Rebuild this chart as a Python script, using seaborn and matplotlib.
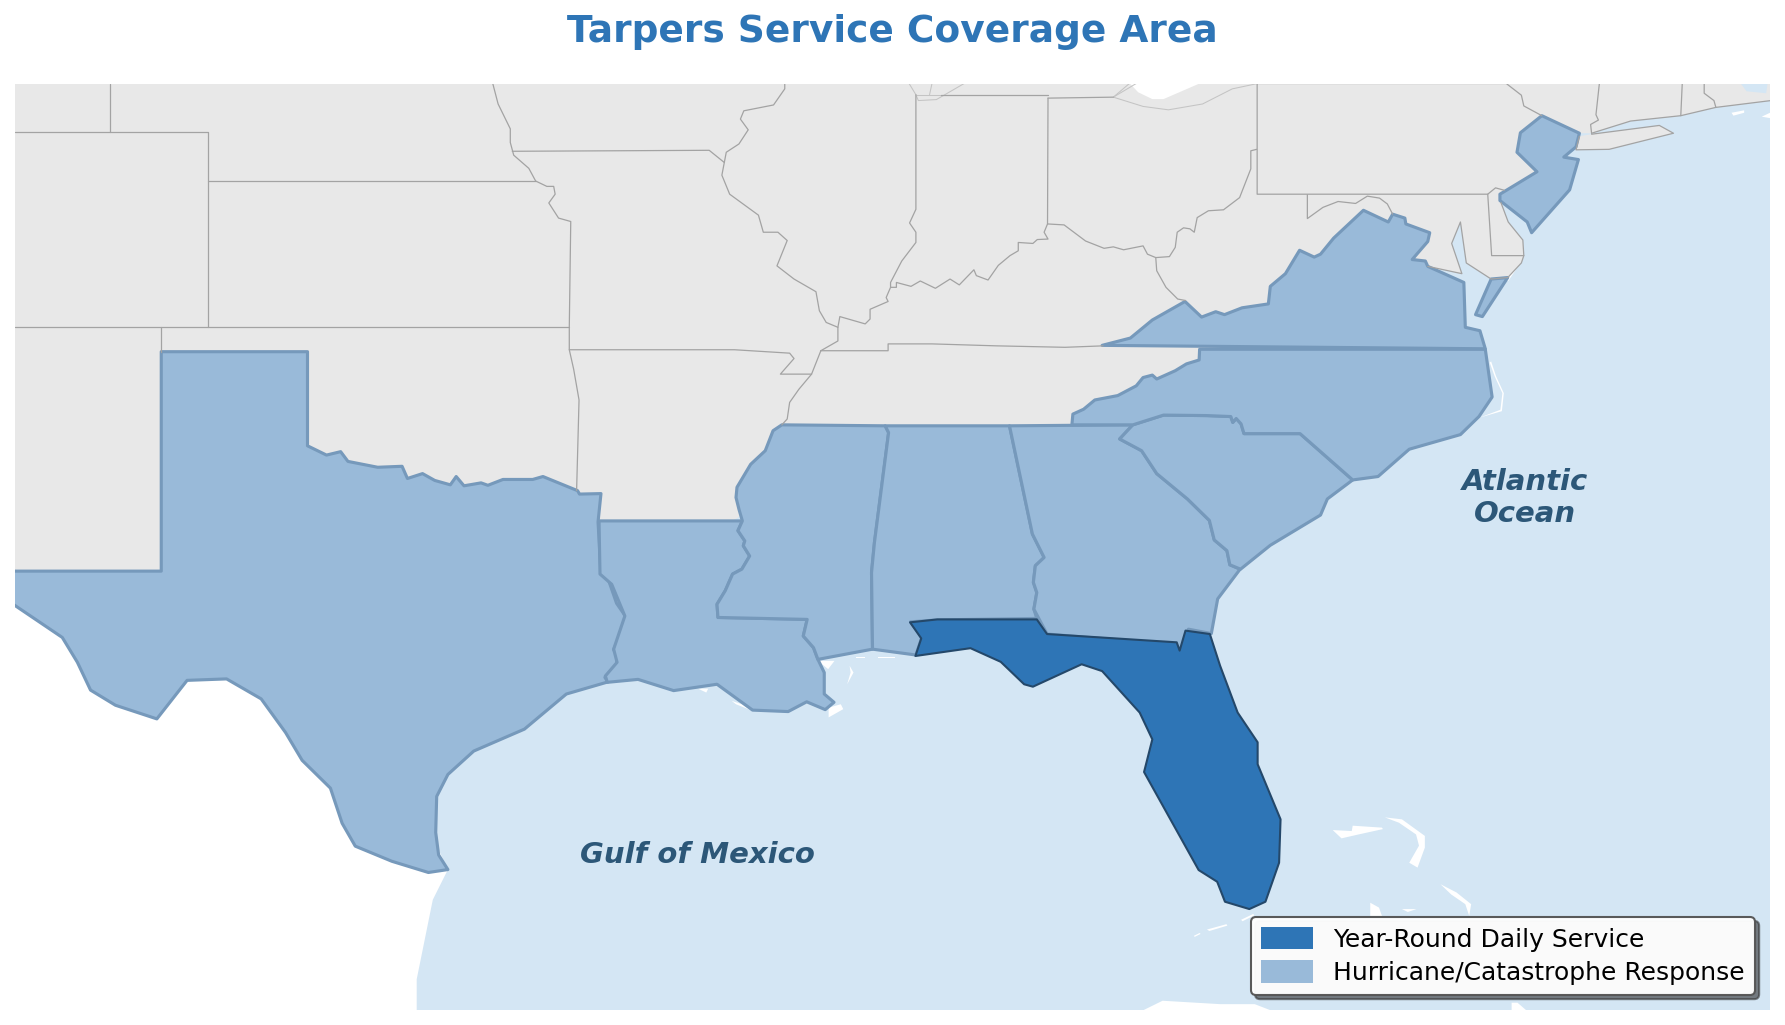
import matplotlib
matplotlib.use("Agg")
import matplotlib.pyplot as plt
import seaborn as sns
from matplotlib.patches import Patch

# map window (plain lon/lat)
LON_RANGE = (-106, -70)
LAT_RANGE = (23, 42)

TITLE = "Tarpers Service Coverage Area"
LEGEND_LABELS = ["Year-Round Daily Service", "Hurricane/Catastrophe Response"]

# served states, lon/lat outlines
TEXAS = [(-103, 32), (-103, 36.5), (-100, 36.5), (-100, 34.57), (-99.61, 34.38), (-99.32, 34.45), (-99.17, 34.25),
         (-98.56, 34.13), (-98.06, 34.15), (-97.95, 33.90), (-97.64, 34.0), (-97.39, 33.86), (-97.07, 33.77),
         (-96.95, 33.94), (-96.79, 33.75), (-96.44, 33.81), (-96.30, 33.76), (-95.99, 33.88), (-95.38, 33.88),
         (-95.17, 33.94), (-94.46, 33.65), (-94.42, 33.58), (-93.98, 33.59), (-94.04, 33.01), (-93.98, 31.95),
         (-93.83, 31.83), (-93.66, 31.34), (-93.48, 31.08), (-93.60, 30.66), (-93.72, 30.39), (-93.65, 30.28),
         (-93.66, 30.07), (-93.90, 29.82), (-93.83, 29.73), (-94.69, 29.48), (-95.55, 28.76), (-96.59, 28.31),
         (-97.12, 27.83), (-97.35, 27.38), (-97.37, 26.64), (-97.31, 26.18), (-97.12, 25.88), (-97.52, 25.82),
         (-98.27, 26.05), (-99.02, 26.36), (-99.29, 26.83), (-99.53, 27.55), (-100.11, 28.12), (-100.45, 28.69),
         (-100.95, 29.38), (-101.66, 29.79), (-102.47, 29.76), (-103.09, 28.97), (-103.94, 29.25), (-104.45, 29.56),
         (-104.72, 30.13), (-105.03, 30.64), (-106.6, 31.7), (-106.6, 32)]
LOUISIANA = [(-94.02, 33.03), (-91.15, 33.03), (-91.08, 33.03), (-91.17, 32.83), (-91.03, 32.62), (-91.06, 32.52),
             (-90.93, 32.31), (-91.09, 32.04), (-91.28, 31.94), (-91.43, 31.6), (-91.60, 31.32), (-91.58, 31.05),
             (-89.75, 31.01), (-89.83, 30.67), (-89.62, 30.43), (-89.53, 30.19), (-89.40, 29.92), (-89.40, 29.48),
             (-89.20, 29.31), (-89.38, 29.16), (-89.76, 29.32), (-90.14, 29.12), (-90.87, 29.15), (-91.6, 29.68),
             (-92.49, 29.55), (-93.22, 29.78), (-93.85, 29.72), (-93.89, 29.85), (-93.65, 30.13), (-93.72, 30.40),
             (-93.49, 31.08), (-93.76, 31.73), (-94.0, 31.94)]
MISSISSIPPI = [(-90.27, 35.0), (-88.15, 34.98), (-88.08, 34.84), (-88.37, 32.59), (-88.43, 31.97), (-88.41, 30.40),
               (-89.53, 30.19), (-89.62, 30.43), (-89.83, 30.67), (-89.75, 31.01), (-91.58, 31.05), (-91.60, 31.32),
               (-91.43, 31.6), (-91.28, 31.94), (-91.09, 32.04), (-90.93, 32.31), (-91.06, 32.52), (-91.03, 32.62),
               (-91.17, 32.83), (-91.08, 33.03), (-91.15, 33.27), (-91.21, 33.51), (-91.19, 33.72), (-90.91, 34.19),
               (-90.61, 34.47), (-90.45, 34.88)]
ALABAMA = [(-88.15, 34.98), (-85.60, 34.98), (-85.13, 32.76), (-84.89, 32.28), (-85.07, 32.11), (-85.11, 31.77),
           (-85.04, 31.56), (-85.10, 31.22), (-85.04, 31.03), (-87.07, 31.0), (-87.63, 30.96), (-87.40, 30.64),
           (-87.52, 30.28), (-88.41, 30.40), (-88.43, 31.97), (-88.37, 32.59), (-88.08, 34.84)]
GEORGIA = [(-85.60, 34.98), (-85.13, 32.76), (-84.89, 32.28), (-85.07, 32.11), (-85.11, 31.77), (-85.04, 31.56),
           (-85.10, 31.22), (-84.83, 30.71), (-82.23, 30.50), (-82.15, 30.35), (-82.02, 30.43), (-81.93, 30.81),
           (-81.46, 30.72), (-81.33, 31.43), (-80.87, 32.04), (-81.08, 32.13), (-81.14, 32.42), (-81.40, 32.64),
           (-81.50, 33.04), (-81.95, 33.48), (-82.58, 34.0), (-82.89, 34.47), (-83.34, 34.71), (-83.07, 35.0)]
SOUTH_CAROLINA = [(-82.44, 35.20), (-83.07, 35.0), (-83.34, 34.71), (-82.89, 34.47), (-82.58, 34.0), (-81.95, 33.48),
                  (-81.50, 33.04), (-81.40, 32.64), (-81.14, 32.42), (-81.08, 32.13), (-80.86, 32.04), (-80.25, 32.53),
                  (-79.22, 33.15), (-79.08, 33.48), (-78.56, 33.87), (-79.64, 34.82), (-80.79, 34.82), (-80.85, 35.02),
                  (-80.95, 35.13), (-81.02, 35.05), (-81.06, 35.17), (-81.55, 35.19)]
NORTH_CAROLINA = [(-75.84, 36.55), (-75.70, 35.57), (-75.97, 35.17), (-76.35, 34.80), (-77.40, 34.50), (-78.04, 33.94),
                  (-78.56, 33.87), (-79.64, 34.82), (-80.79, 34.82), (-80.85, 35.02), (-80.95, 35.13), (-81.02, 35.05),
                  (-81.06, 35.17), (-81.55, 35.19), (-82.44, 35.20), (-83.07, 35.0), (-84.32, 35.0), (-84.30, 35.22),
                  (-84.08, 35.32), (-83.85, 35.51), (-83.38, 35.6), (-83.0, 35.8), (-82.86, 35.97), (-82.67, 36.02),
                  (-82.58, 35.94), (-82.20, 36.11), (-81.97, 36.25), (-81.71, 36.33), (-81.70, 36.55)]
VIRGINIA = [(-83.70, 36.63), (-83.12, 36.78), (-82.67, 37.15), (-82.0, 37.53), (-81.66, 37.21), (-81.37, 37.32),
            (-81.19, 37.26), (-80.83, 37.40), (-80.29, 37.48), (-80.25, 37.84), (-79.94, 38.10), (-79.65, 38.58),
            (-79.35, 38.44), (-79.22, 38.50), (-78.95, 38.83), (-78.34, 39.40), (-77.83, 39.16), (-77.74, 39.32),
            (-77.49, 39.24), (-77.47, 39.12), (-76.98, 38.94), (-77.02, 38.76), (-77.34, 38.39), (-77.07, 38.36),
            (-77.02, 38.25), (-76.28, 37.92), (-76.25, 37.0), (-75.95, 36.93), (-75.84, 36.56)]
VIRGINIA_SHORE = [(-75.72, 37.99), (-75.38, 38.02), (-75.90, 37.22), (-76.04, 37.26)]
NEW_JERSEY = [(-74.68, 41.34), (-73.91, 40.98), (-73.98, 40.70), (-74.23, 40.49), (-73.93, 40.44), (-74.11, 39.82),
              (-74.89, 38.94), (-74.98, 39.16), (-75.54, 39.60), (-75.54, 39.73), (-74.78, 40.19), (-75.19, 40.59),
              (-75.12, 40.99)]
FLORIDA = [(-87.64, 30.95), (-87.08, 31.01), (-85.04, 31.01), (-84.83, 30.71), (-82.17, 30.54), (-82.11, 30.37),
           (-81.99, 30.78), (-81.49, 30.71), (-81.28, 30.06), (-80.92, 29.10), (-80.51, 28.49), (-80.51, 28.04),
           (-80.04, 26.91), (-80.07, 26.02), (-80.35, 25.22), (-80.68, 25.07), (-81.18, 25.22), (-81.34, 25.63),
           (-81.72, 25.87), (-82.84, 27.88), (-82.67, 28.55), (-82.93, 29.10), (-83.70, 29.95), (-84.12, 30.09),
           (-85.12, 29.63), (-85.30, 29.68), (-85.78, 30.14), (-86.40, 30.42), (-87.53, 30.26), (-87.41, 30.62)]

# rest of the country, its south side runs underneath the served states
GREY_LAND = [(-106.7, 42.5), (-69.9, 42.5), (-69.9, 41.66), (-71.11, 41.51), (-71.83, 41.34), (-72.86, 41.23),
             (-73.66, 40.98), (-73.91, 40.98), (-74.5, 40.0), (-75.3, 39.55), (-75.52, 39.56), (-75.37, 39.16),
             (-75.07, 38.79), (-75.05, 38.47), (-75.10, 38.32), (-75.38, 38.02), (-75.72, 37.99), (-76.23, 38.32),
             (-76.35, 39.16), (-76.53, 38.72), (-76.32, 38.10), (-77.02, 38.25), (-78, 36.3), (-82, 35.3),
             (-84.5, 34.95), (-90.2, 34.9), (-91.0, 33.2), (-91.5, 32.9), (-93.9, 32.9), (-94.2, 33.3), (-98, 33.3),
             (-99.8, 34), (-100.2, 34), (-100.2, 36.3), (-102.8, 36.3), (-102.8, 31.9), (-106.7, 31.9)]
LONG_ISLAND = [(-73.66, 40.96), (-72.27, 41.14), (-71.98, 40.98), (-73.30, 40.65), (-73.98, 40.64), (-73.91, 40.92)]
CAPE_COD_BAY = [(-70.60, 42.0), (-70.48, 41.84), (-70.08, 41.80), (-70.05, 42.0)]
LAKE_ERIE = [(-83.14, 42.01), (-82.96, 41.82), (-82.67, 41.68), (-82.44, 41.68), (-81.68, 42.01)]

# white land: Mexico, Cuba, the Bahamas and small islands
MEXICO = [(-97.12, 25.88), (-97.43, 25.26), (-97.76, 23.63), (-97.76, 22.9), (-106.7, 22.9), (-106.7, 32), (-100, 32)]
ISLANDS = [
    [(-78.97, 26.69), (-78.79, 26.52), (-78.44, 26.60), (-77.94, 26.71), (-77.96, 26.74), (-78.56, 26.78), (-78.58, 26.67)],
    [(-77.90, 26.95), (-77.55, 26.91), (-77.08, 26.57), (-77.08, 26.33), (-77.23, 25.92), (-77.40, 26.02), (-77.20, 26.37),
     (-77.26, 26.60), (-77.61, 26.84)],
    [(-76.76, 25.58), (-76.43, 25.41), (-76.13, 25.17), (-76.17, 24.93), (-76.25, 25.17), (-76.54, 25.37)],
    [(-78.20, 25.2), (-78.02, 25.1), (-77.96, 24.93), (-78.2, 24.93)],
    [(-77.55, 25.07), (-77.25, 25.07), (-77.43, 25.01)],
    [(-83.05, 22.9), (-82.46, 23.19), (-81.28, 23.12), (-80.57, 23.12), (-80.0, 22.9)],
    [(-75.30, 23.15), (-75.18, 23.15), (-74.89, 22.9), (-75.3, 22.9)],
    [(-81.82, 24.52), (-81.70, 24.58), (-81.68, 24.56), (-81.80, 24.50)],
    [(-81.55, 24.65), (-81.15, 24.76), (-81.13, 24.73), (-81.50, 24.62)],
    [(-80.85, 24.85), (-80.60, 24.97), (-80.58, 24.94), (-80.82, 24.82)],
    [(-75.72, 36.30), (-75.62, 36.0), (-75.46, 35.65), (-75.50, 35.28), (-75.95, 35.15), (-75.53, 35.31), (-75.49, 35.65),
     (-75.65, 36.0), (-75.75, 36.28)],
    [(-75.07, 38.39), (-75.37, 37.95), (-75.42, 37.95), (-75.12, 38.36)],
    [(-91.99, 29.59), (-91.78, 29.59), (-91.82, 29.51)],
    [(-91.30, 29.34), (-91.09, 29.27), (-90.91, 29.15), (-91.21, 29.27)],
    [(-89.31, 29.2), (-89.06, 29.27), (-89.01, 29.17), (-89.31, 29.0)],
    [(-88.88, 30.06), (-88.80, 29.92), (-88.93, 29.68), (-88.86, 29.92)],
    [(-89.53, 30.16), (-89.19, 30.16), (-89.32, 29.99)],
    [(-88.75, 30.24), (-88.57, 30.24), (-88.57, 30.21), (-88.75, 30.21)],
    [(-88.3, 30.24), (-87.95, 30.24), (-87.95, 30.21), (-88.3, 30.21)],
    [(-70.79, 41.40), (-70.53, 41.45), (-70.53, 41.40), (-70.75, 41.34)],
    [(-70.17, 41.32), (-70.0, 41.40), (-70.0, 41.29)],
]

# state lines of the grey part
GREY_BORDERS = [
    [(-106, 41.0), (-102.05, 41.0), (-102.05, 37.0)],
    [(-104.05, 42), (-104.05, 41.0)],
    [(-102.05, 40.0), (-95.32, 40.0)],
    [(-106, 37.0), (-94.63, 37.0)],
    [(-103, 37.0), (-103, 36.5)],
    [(-96.20, 42), (-96.09, 41.58), (-95.84, 41.07), (-95.84, 40.79), (-95.77, 40.53), (-95.46, 40.26), (-95.32, 40.0),
     (-95.09, 39.89), (-94.95, 39.89), (-94.92, 39.73), (-95.05, 39.55), (-94.85, 39.24), (-94.60, 39.17), (-94.63, 37.0),
     (-94.63, 36.54), (-94.54, 36.14), (-94.43, 35.51), (-94.48, 33.65)],
    [(-95.8, 40.61), (-91.76, 40.63), (-91.45, 40.38)],
    [(-94.63, 36.54), (-91.24, 36.54), (-90.11, 36.47), (-90.02, 36.36), (-90.3, 36.04), (-89.66, 36.04)],
    [(-89.47, 36.52), (-89.66, 36.04), (-89.92, 35.73), (-90.11, 35.46), (-90.16, 35.12), (-90.27, 35.0)],
    [(-90.21, 42), (-90.21, 41.89), (-90.44, 41.56), (-91.05, 41.44), (-91.12, 41.27), (-90.96, 41.05), (-91.15, 40.76),
     (-91.41, 40.59), (-91.50, 40.12), (-91.34, 39.73), (-90.75, 39.30), (-90.65, 38.95), (-90.35, 38.95), (-90.16, 38.78),
     (-90.37, 38.26), (-90.02, 37.99), (-89.57, 37.73), (-89.50, 37.34), (-89.36, 37.10), (-89.12, 37.0), (-89.12, 36.72),
     (-89.47, 36.52)],
    [(-87.52, 41.77), (-87.52, 39.42), (-87.65, 39.14), (-87.52, 38.95), (-87.52, 38.74), (-87.81, 38.36), (-88.04, 37.92),
     (-88.04, 37.82), (-88.13, 37.61), (-88.09, 37.53), (-88.46, 37.37), (-88.46, 37.17), (-88.56, 37.07), (-89.08, 37.22),
     (-89.12, 37.0)],
    [(-88.04, 37.82), (-87.92, 37.82), (-87.92, 37.92), (-87.62, 37.84), (-87.43, 37.95), (-87.12, 37.80), (-86.82, 37.99),
     (-86.63, 37.87), (-86.33, 38.18), (-86.28, 38.06), (-86.04, 37.97), (-85.83, 38.27), (-85.59, 38.47), (-85.42, 38.57),
     (-85.42, 38.74), (-85.12, 38.72), (-85.03, 38.80), (-84.81, 38.81), (-84.89, 38.95), (-84.82, 39.12)],
    [(-87.0, 41.77), (-84.81, 41.77)],
    [(-84.81, 41.70), (-84.82, 39.12), (-84.48, 39.10), (-84.04, 38.77), (-83.66, 38.62), (-83.47, 38.65), (-83.26, 38.59),
     (-82.86, 38.67), (-82.77, 38.50), (-82.60, 38.43), (-82.32, 38.45), (-82.20, 38.64), (-82.16, 38.95), (-82.03, 39.04),
     (-81.90, 39.02), (-81.81, 38.95), (-81.75, 39.25), (-81.52, 39.39), (-81.21, 39.41), (-80.88, 39.66), (-80.65, 40.25),
     (-80.65, 40.62), (-80.53, 40.65)],
    [(-84.81, 41.70), (-83.47, 41.72)],
    [(-82.60, 38.43), (-82.58, 38.16), (-82.39, 37.82), (-82.15, 37.58), (-81.99, 37.55)],
    [(-89.47, 36.52), (-88.09, 36.52), (-88.09, 36.66), (-87.85, 36.66), (-87.19, 36.66), (-85.87, 36.62), (-84.46, 36.59),
     (-83.68, 36.62)],
    [(-80.52, 42), (-80.52, 39.73), (-75.79, 39.73), (-75.63, 39.86), (-75.45, 39.81)],
    [(-75.79, 39.73), (-75.71, 38.47), (-75.05, 38.47)],
    [(-80.52, 42), (-75.41, 42), (-75.10, 41.76), (-75.05, 41.54), (-74.68, 41.34)],
    [(-79.49, 39.72), (-79.49, 39.23), (-79.17, 39.46), (-78.86, 39.58), (-78.50, 39.54), (-78.26, 39.69), (-78.01, 39.65),
     (-77.85, 39.53), (-77.74, 39.32)],
    [(-73.50, 42), (-73.57, 41.36), (-73.52, 41.25), (-73.68, 41.16), (-73.66, 40.98)],
    [(-71.80, 42), (-71.83, 41.34)],
    [(-71.35, 42), (-71.35, 41.8), (-71.15, 41.65), (-71.11, 41.51)],
    [(-69.9, 41.66), (-71.11, 41.51), (-71.83, 41.34), (-72.86, 41.23), (-73.66, 40.98)],
    [(-73.66, 40.96), (-72.27, 41.14), (-71.98, 40.98), (-73.30, 40.65), (-73.98, 40.64), (-73.91, 40.92)],
    [(-75.52, 39.56), (-75.37, 39.16), (-75.07, 38.79), (-75.05, 38.47), (-75.10, 38.32), (-75.38, 38.02), (-75.72, 37.99),
     (-76.23, 38.32), (-76.35, 39.16), (-76.53, 38.72), (-76.32, 38.10), (-77.02, 38.25)],
]
# lake shores, drawn fainter
LAKE_SHORES = [
    [(-87.66, 42), (-87.52, 41.77), (-87.47, 41.65), (-87.10, 41.67), (-86.53, 42)],
    [(-87.52, 41.77), (-87.0, 41.77)],
    [(-87.19, 42), (-87.24, 41.77)],
    [(-83.14, 42), (-83.47, 41.72), (-82.86, 41.53), (-82.34, 41.46), (-81.64, 41.58), (-81.03, 41.89), (-80.51, 42)],
    [(-83.47, 41.72), (-83.0, 42)],
]

sns.set_theme(style="white")
plt.rcParams["font.family"] = ["DejaVu Sans"]

COL_DAILY, COL_RESPONSE = sns.color_palette(["#2E75B6", "#99BAD9"])
COL_OCEAN = "#D4E6F4"
COL_GREY = "#E8E8E8"
COL_LINE = "#A3A3A3"
COL_TEXT = "#2C5778"


def fill_shape(ax, outline, **kwargs):
    ax.fill([p[0] for p in outline], [p[1] for p in outline], **kwargs)


def draw_line(ax, outline, color, lw):
    sns.lineplot(x=[p[0] for p in outline], y=[p[1] for p in outline], sort=False, estimator=None,
                 color=color, linewidth=lw, ax=ax)


fig = plt.figure(figsize=(11.9, 1025 / 150), dpi=150)
ax = fig.add_axes([15 / 1785, 1 - 1010 / 1025, 1755 / 1785, 926.5 / 1025])
ax.set_facecolor(COL_OCEAN)

fill_shape(ax, MEXICO, color="white", lw=0)
for island in ISLANDS:
    fill_shape(ax, island, color="white", lw=0)

fill_shape(ax, GREY_LAND, color=COL_GREY, lw=0)
fill_shape(ax, LONG_ISLAND, color=COL_GREY, lw=0)
fill_shape(ax, CAPE_COD_BAY, color=COL_OCEAN, lw=0)
fill_shape(ax, LAKE_ERIE, color="white", lw=0)

for shore in LAKE_SHORES:
    draw_line(ax, shore, "#C4C4C4", 0.5)
for border in GREY_BORDERS:
    draw_line(ax, border, COL_LINE, 0.6)

for state in [TEXAS, LOUISIANA, MISSISSIPPI, ALABAMA, GEORGIA, SOUTH_CAROLINA, NORTH_CAROLINA, VIRGINIA,
              VIRGINIA_SHORE, NEW_JERSEY]:
    fill_shape(ax, state, facecolor=COL_RESPONSE, edgecolor="#7699BB", lw=1.5, joinstyle="round")
fill_shape(ax, FLORIDA, facecolor=COL_DAILY, edgecolor="#24486A", lw=1.0, joinstyle="round")

ax.text(-92.0, 26.17, "Gulf of Mexico", fontsize=14, fontweight="bold", fontstyle="italic",
        color=COL_TEXT, ha="center", va="center")
ax.text(-75.02, 33.5, "Atlantic\nOcean", fontsize=14, fontweight="bold", fontstyle="italic",
        color=COL_TEXT, ha="center", va="center")

handles = [Patch(facecolor=COL_DAILY, edgecolor="none", label=LEGEND_LABELS[0]),
           Patch(facecolor=COL_RESPONSE, edgecolor="none", label=LEGEND_LABELS[1])]
leg = ax.legend(handles=handles, loc="lower right", fontsize=12, frameon=True, fancybox=True,
                shadow={"color": "#333333", "alpha": 0.6}, framealpha=0.97, facecolor="white", edgecolor="#555555",
                labelcolor="black", handlelength=2.1, handleheight=1.0, labelspacing=0.35, borderaxespad=0.6)
leg.get_frame().set_linewidth(1.0)

ax.set_xlim(*LON_RANGE)
ax.set_ylim(*LAT_RANGE)
ax.set_xticks([])
ax.set_yticks([])
ax.set_xlabel("")
ax.set_ylabel("")
sns.despine(ax=ax, left=True, bottom=True, right=True, top=True)
ax.set_title(TITLE, fontsize=18, fontweight="bold", color=COL_DAILY, pad=20)

fig.savefig("out.png", dpi=150)
